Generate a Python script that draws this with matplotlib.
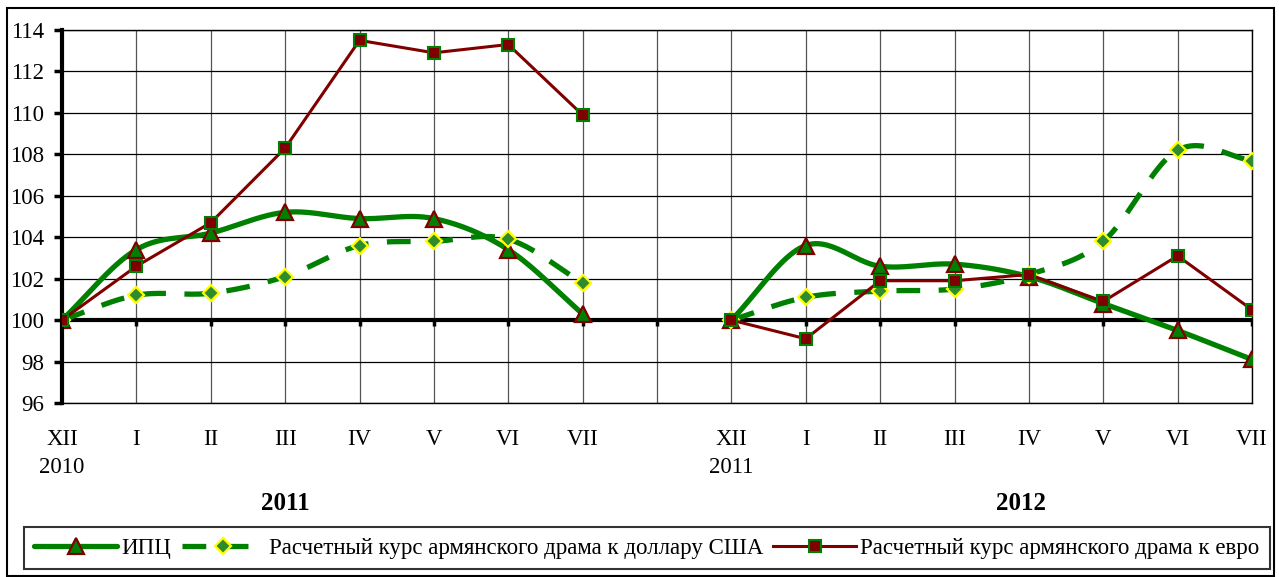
# indices: CPI and exchange rates, previous December = 100
import numpy as np
import matplotlib.pyplot as plt
from matplotlib.lines import Line2D
from matplotlib.patches import Rectangle
import matplotlib.transforms as mtransforms

plt.rcParams["font.family"] = ["Liberation Serif", "DejaVu Serif"]

# data
months = ["XII", "I", "II", "III", "IV", "V", "VI", "VII"]
base_years = ["2010", "2011"]
period_years = ["2011", "2012"]

cpi_2011 = [100, 103.4, 104.2, 105.2, 104.9, 104.9, 103.4, 100.3]
usd_2011 = [100, 101.2, 101.3, 102.1, 103.6, 103.8, 103.9, 101.8]
eur_2011 = [100, 102.6, 104.7, 108.3, 113.5, 112.9, 113.3, 109.9]

cpi_2012 = [100, 103.6, 102.6, 102.7, 102.1, 100.8, 99.5, 98.1]
usd_2012 = [100, 101.1, 101.4, 101.5, 102.2, 103.8, 108.2, 107.7]
eur_2012 = [100, 99.1, 101.9, 101.9, 102.2, 100.9, 103.1, 100.5]

legend_labels = ["ИПЦ",
                 "Расчетный курс армянского драма к доллару США",
                 "Расчетный курс армянского драма к евро"]

green = "#008000"
dred = "#800000"


# smoothed line like the spreadsheet "smooth line" option (drawing only)
def smooth(x, y, n=30):
    x = np.asarray(x, float)
    y = np.asarray(y, float)
    m = np.zeros_like(y)
    m[1:-1] = (y[2:] - y[:-2]) / 2
    m[0] = y[1] - y[0]
    m[-1] = y[-1] - y[-2]
    xs, ys = [], []
    for i in range(len(y) - 1):
        t = np.linspace(0, 1, n, endpoint=False)
        h00 = 2 * t**3 - 3 * t**2 + 1
        h10 = t**3 - 2 * t**2 + t
        h01 = -2 * t**3 + 3 * t**2
        h11 = t**3 - t**2
        ys.append(h00 * y[i] + h10 * m[i] + h01 * y[i + 1] + h11 * m[i + 1])
        xs.append(x[i] + t * (x[i + 1] - x[i]))
    xs.append([x[-1]])
    ys.append([y[-1]])
    return np.concatenate(xs), np.concatenate(ys)


fig = plt.figure(figsize=(12.79, 5.77), dpi=100)
ax = fig.add_axes([62 / 1279, 1 - 403 / 577, (1252 - 62) / 1279, 373 / 577])

x1 = np.arange(len(months))
x2 = x1 + len(months) + 1
positions = np.arange(2 * len(months) + 1)
tick_labels = months + [""] + months

cpi_style = dict(color=green, lw=3.8, solid_capstyle="round")
usd_style = dict(color=green, lw=3.8, dashes=(4.5, 3.5), dash_capstyle="butt")
eur_style = dict(color=dred, lw=2.2)

for xx, cpi, usd, eur in [(x1, cpi_2011, usd_2011, eur_2011),
                          (x2, cpi_2012, usd_2012, eur_2012)]:
    sx, sy = smooth(xx, cpi)
    ax.plot(sx, sy, zorder=4, **cpi_style)
    ax.plot(xx, cpi, ls="none", marker="^", ms=11, mfc=green, mec=dred, mew=1.6, zorder=5)
    sx, sy = smooth(xx, usd)
    ax.plot(sx, sy, zorder=4, **usd_style)
    ax.plot(xx, usd, ls="none", marker="D", ms=8, mfc="#2e8b2e", mec="#ffff00", mew=1.6, zorder=5)
    ax.plot(xx, eur, zorder=6, **eur_style)
    ax.plot(xx, eur, ls="none", marker="s", ms=9, mfc=dred, mec=green, mew=1.5, zorder=7)

# base line at 100 with small ticks
ax.axhline(100, color="black", lw=3, zorder=3)
ax.vlines(positions, 99.72, 100, color="black", lw=2.5, zorder=3)

ax.set_xlim(0, positions[-1])
ax.set_ylim(96, 114)
ax.set_yticks(np.arange(96, 115, 2))
ax.set_xticks(positions)
ax.set_xticklabels(tick_labels)
ax.tick_params(axis="y", direction="out", length=6, width=2.5, pad=7, labelsize=16.5)
ax.tick_params(axis="x", length=0, pad=18.5, labelsize=16.5)

ax.yaxis.grid(True, color="black", lw=0.9)
ax.xaxis.grid(True, color="#555555", lw=0.9)
ax.set_axisbelow(True)
for side in ["top", "right", "bottom"]:
    ax.spines[side].set_linewidth(1)
ax.spines["left"].set_linewidth(3)
ax.spines["left"].set_zorder(6)

trans = mtransforms.blended_transform_factory(ax.transData, ax.transAxes)
for xpos, lab in zip([x1[0], x2[0]], base_years):
    ax.text(xpos, -0.172, lab, transform=trans, ha="center", va="center", fontsize=16.5)
for xpos, lab in zip([3, 12.9], period_years):
    ax.text(xpos, -0.27, lab, transform=trans, ha="center", va="center",
            fontsize=18, fontweight="bold")

handles = [
    Line2D([], [], marker="^", ms=11, mfc=green, mec=dred, mew=1.6, **cpi_style),
    Line2D([], [], marker="D", ms=8, mfc="#2e8b2e", mec="#ffff00", mew=1.6, **usd_style),
    Line2D([], [], marker="s", ms=9, mfc=dred, mec=green, mew=1.5, **eur_style),
]
leg = fig.legend(handles, legend_labels, loc="center", ncol=3,
                 bbox_to_anchor=(647 / 1279, 1 - 548 / 577), fontsize=16.5,
                 frameon=True, fancybox=False, edgecolor="black",
                 handlelength=3.6, handletextpad=0.2, columnspacing=0.45,
                 borderpad=0.45, borderaxespad=0)
leg.get_frame().set_linewidth(1.5)

# outer frame
fig.patches.append(Rectangle((7 / 1279, 1 / 577), 1267 / 1279, 568 / 577,
                             transform=fig.transFigure, fill=False,
                             edgecolor="black", lw=1.5))

fig.savefig("out.png", dpi=100)
